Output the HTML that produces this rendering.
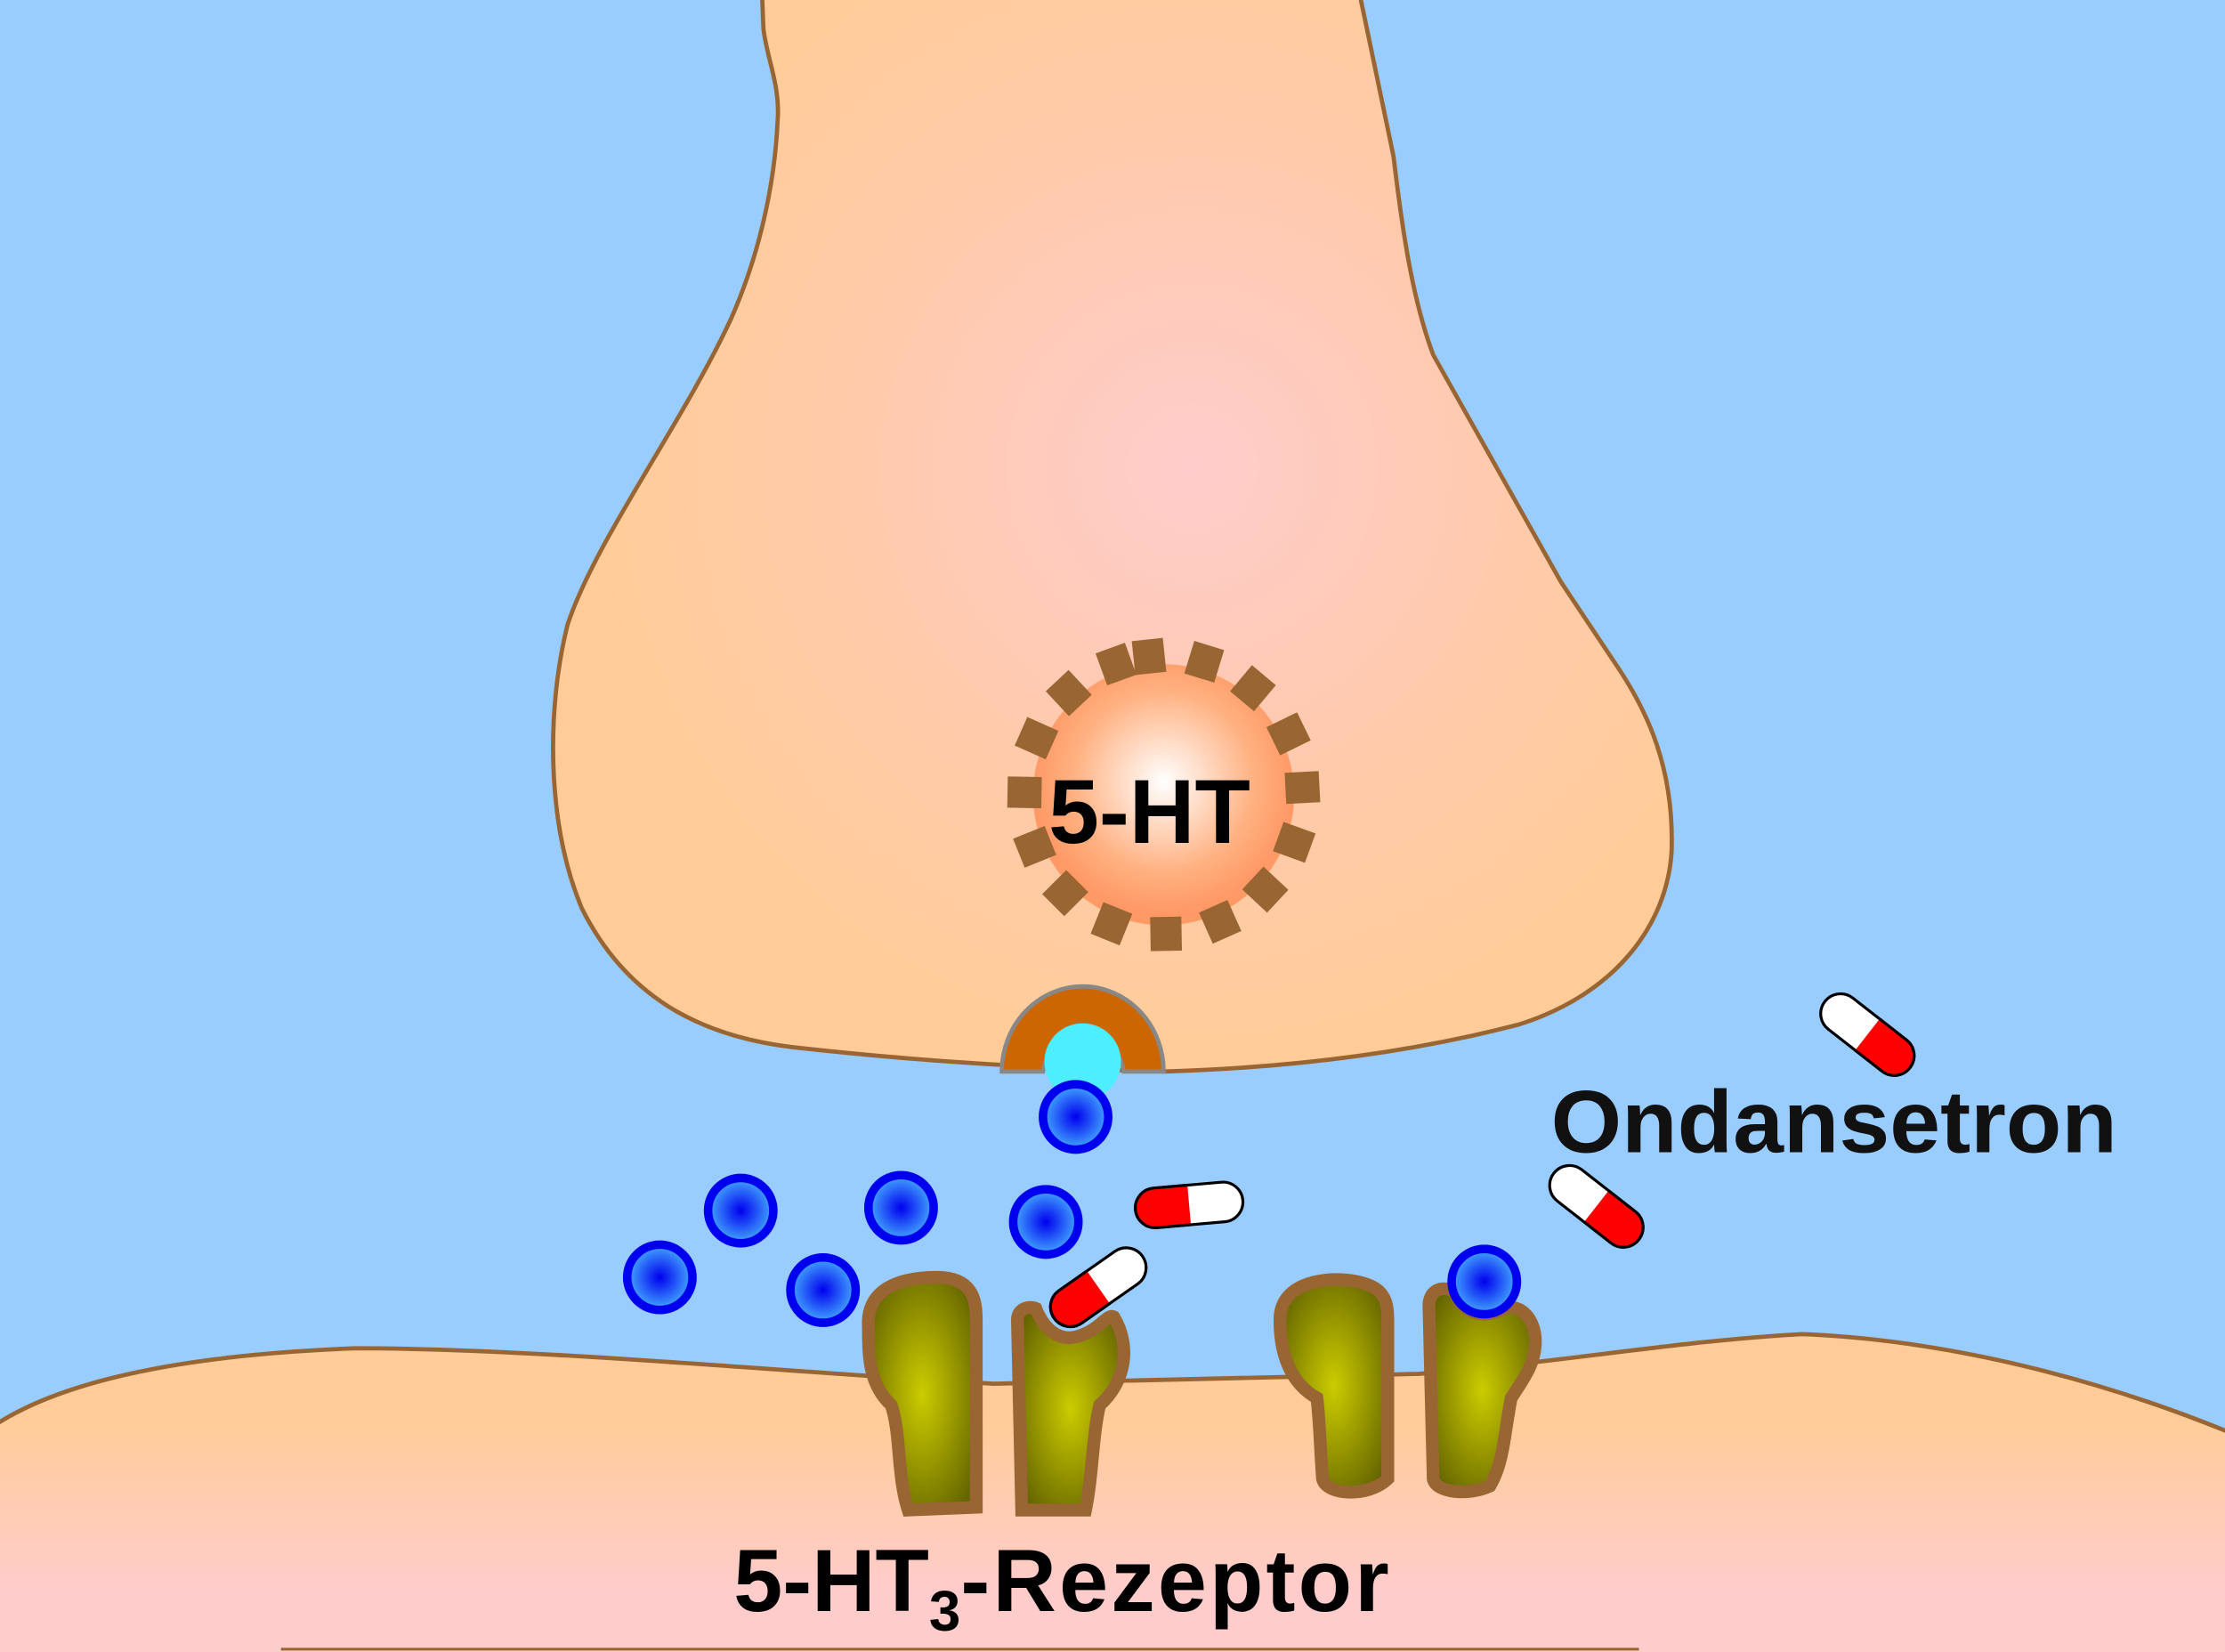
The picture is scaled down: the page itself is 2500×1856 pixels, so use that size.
<!DOCTYPE html>
<html><head><meta charset="utf-8"><style>html,body{margin:0;padding:0;background:#99ccff;}svg{display:block}</style></head>
<body>
<svg width="2500" height="1856" viewBox="0 0 1568 1164" preserveAspectRatio="none" xmlns="http://www.w3.org/2000/svg">
<defs>
<radialGradient id="pre" cx="840" cy="330" r="420" gradientUnits="userSpaceOnUse">
<stop offset="0" stop-color="#ffcccc"/><stop offset="0.6" stop-color="#ffcaa8"/><stop offset="1" stop-color="#ffcc99"/></radialGradient>
<linearGradient id="post" x1="0" y1="960" x2="0" y2="1164" gradientUnits="userSpaceOnUse">
<stop offset="0.2" stop-color="#ffcc99"/><stop offset="0.8" stop-color="#ffcccc"/></linearGradient>
<radialGradient id="ves" cx="0.5" cy="0.45" r="0.5">
<stop offset="0" stop-color="#ffffff"/><stop offset="0.7" stop-color="#ffb080"/><stop offset="1" stop-color="#ff9966"/></radialGradient>
<radialGradient id="ball" cx="0.5" cy="0.5" r="0.5">
<stop offset="0" stop-color="#0000ee"/><stop offset="1" stop-color="#44aaff"/></radialGradient>
<radialGradient id="rec" cx="0.5" cy="0.5" r="0.6">
<stop offset="0" stop-color="#cccc00"/><stop offset="1" stop-color="#666600"/></radialGradient>
<g id="pill"><rect x="-38" y="-14" width="76" height="28" rx="14" fill="#fff" stroke="#000" stroke-width="2"/>
<path d="M0 -14 H-24 A14 14 0 0 0 -24 14 H0 Z" fill="#f00"/><path d="M0 -14 H-24 A14 14 0 0 0 -24 14 H0" fill="none" stroke="#000" stroke-width="2"/></g>
<g id="b"><circle r="23" fill="url(#ball)" stroke="#0000ee" stroke-width="6"/></g>
</defs>
<rect width="1568" height="1164" fill="#99ccff"/>
<path d="M537 -5 L538 20 C540 40 550 60 548 85 C546 130 535 180 515 225 C480 300 420 380 400 440 C385 500 385 580 410 640 C440 700 490 730 560 738 C650 748 720 752 820 755 C920 752 1000 740 1070 722 C1140 700 1175 650 1178 600 C1180 540 1160 500 1140 470 L1100 410 L1010 250 C995 210 988 160 982 110 L958 -5 Z" fill="url(#pre)" stroke="#996633" stroke-width="3"/>
<path d="M-5 1005 C40 975 120 955 250 950 C360 950 500 962 620 970 L700 975 L1000 968 C1100 960 1180 945 1270 940 C1390 945 1500 980 1573 1010 L1573 1170 L-5 1170 Z" fill="url(#post)" stroke="#996633" stroke-width="3"/>
<line x1="198" y1="1162" x2="1155" y2="1162" stroke="#996633" stroke-width="2"/>
<circle cx="820" cy="560" r="92" fill="url(#ves)"/>
<g fill="#996633" transform="translate(820,560)">
<rect x="-11" y="-110" width="22" height="24" transform="rotate(-6)"/>
<rect x="-11" y="-110" width="22" height="24" transform="rotate(17)"/>
<rect x="-11" y="-110" width="22" height="24" transform="rotate(40)"/>
<rect x="-11" y="-110" width="22" height="24" transform="rotate(64)"/>
<rect x="-11" y="-110" width="22" height="24" transform="rotate(87)"/>
<rect x="-11" y="-110" width="22" height="24" transform="rotate(110)"/>
<rect x="-11" y="-110" width="22" height="24" transform="rotate(133)"/>
<rect x="-11" y="-110" width="22" height="24" transform="rotate(156)"/>
<rect x="-11" y="-110" width="22" height="24" transform="rotate(179)"/>
<rect x="-11" y="-110" width="22" height="24" transform="rotate(202)"/>
<rect x="-11" y="-110" width="22" height="24" transform="rotate(225)"/>
<rect x="-11" y="-110" width="22" height="24" transform="rotate(248)"/>
<rect x="-11" y="-110" width="22" height="24" transform="rotate(271)"/>
<rect x="-11" y="-110" width="22" height="24" transform="rotate(294)"/>
<rect x="-11" y="-110" width="22" height="24" transform="rotate(317)"/>
<rect x="-11" y="-110" width="22" height="24" transform="rotate(340)"/>
</g>
<text x="810" y="594" font-family="Liberation Sans, sans-serif" font-weight="bold" font-size="64" text-anchor="middle" fill="#000">5-HT</text>
<path d="M706 755 A57 60 0 0 1 820 755 L792 755 A29 32 0 0 0 735 755 Z" fill="#cc6600" stroke="#888" stroke-width="3"/>
<circle cx="763" cy="748" r="27" fill="#4deeff"/>
<g stroke="#996633" stroke-width="9" fill="url(#rec)">
<path d="M612 935 C610 905 640 900 660 900 C685 900 688 915 688 930 L688 1062 L640 1064 C632 1040 635 1010 628 990 C612 975 612 955 612 935 Z"/>
<path d="M717 930 C717 922 725 920 730 922 C735 935 745 945 758 942 C775 938 780 925 785 928 C798 950 792 975 775 990 C770 1010 770 1040 765 1064 L720 1064 Z"/>
<path d="M902 930 C902 905 930 900 950 902 C975 905 978 915 978 930 L978 1042 C965 1055 935 1054 932 1042 C930 1015 930 1000 928 985 C910 975 902 955 902 930 Z"/>
<path d="M1007 920 C1007 910 1015 905 1025 910 C1030 925 1045 930 1060 922 C1072 918 1082 930 1082 945 C1082 960 1075 970 1065 985 C1060 1010 1060 1030 1050 1047 C1035 1054 1012 1052 1010 1042 Z"/>
</g>
<use href="#b" x="758" y="787"/>
<use href="#b" x="522" y="853"/>
<use href="#b" x="635" y="851"/>
<use href="#b" x="737" y="861"/>
<use href="#b" x="465" y="900"/>
<use href="#b" x="580" y="909"/>
<use href="#b" x="1046" y="903"/>
<use href="#pill" transform="translate(838,849) rotate(-5)"/>
<use href="#pill" transform="translate(774,907) rotate(-35)"/>
<use href="#pill" transform="translate(1316,729) rotate(218)"/>
<use href="#pill" transform="translate(1125,850) rotate(218)"/>
<text x="1093" y="812" font-family="Liberation Sans, sans-serif" font-weight="bold" font-size="62" fill="#111" textLength="399" lengthAdjust="spacingAndGlyphs">Ondansetron</text>
<text x="517" y="1135" font-family="Liberation Sans, sans-serif" font-weight="bold" font-size="62" fill="#000">5-HT<tspan font-size="40" dy="14">3</tspan><tspan dy="-14" letter-spacing="2">-Rezeptor</tspan></text>
</svg>
</body></html>
